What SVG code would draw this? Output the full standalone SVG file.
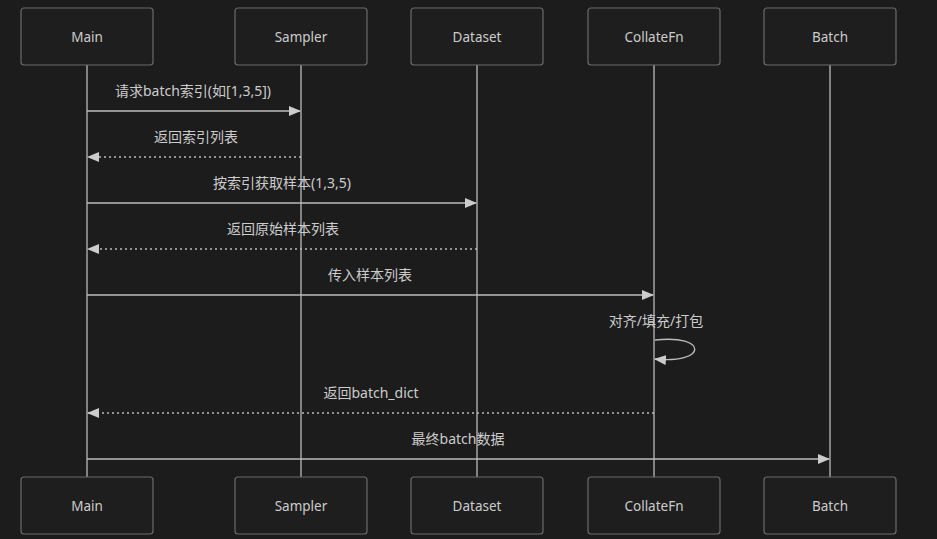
<svg xmlns="http://www.w3.org/2000/svg" width="937" height="539" viewBox="0 0 937 539">
<defs>
<marker id="ah" markerWidth="12" markerHeight="10" refX="11" refY="5" orient="auto" markerUnits="userSpaceOnUse">
<path d="M0,0 L12,5 L0,10 Z" fill="#cccccc"/>
</marker>
<style>
.box{fill:#1e1e1e;stroke:#6a6a6a;stroke-width:1.2}
.lbl{font-family:"Noto Sans","Noto Sans CJK SC",sans-serif;font-size:13.5px;fill:#cccccc;text-anchor:middle;dominant-baseline:central}
.life{stroke:#bbbbbb;stroke-width:1.3}
.msg{stroke:#bbbbbb;stroke-width:1.4;fill:none;marker-end:url(#ah)}
.dot{stroke-dasharray:2 3}
.mt{font-family:"Noto Sans","Noto Sans CJK SC",sans-serif;font-size:14px;fill:#cccccc;text-anchor:middle}
</style>
</defs>
<rect width="937" height="539" fill="#1c1c1c"/>
<g id="lifelines">
<line class="life" x1="87" y1="65" x2="87" y2="477"/>
<line class="life" x1="301" y1="65" x2="301" y2="477"/>
<line class="life" x1="477" y1="65" x2="477" y2="477"/>
<line class="life" x1="654" y1="65" x2="654" y2="477"/>
<line class="life" x1="830" y1="65" x2="830" y2="477"/>
</g>
<g id="main-top"><rect class="box" x="21" y="8" width="132" height="57" rx="3"/><text class="lbl" x="87" y="37">Main</text></g>
<g id="sampler-top"><rect class="box" x="235" y="8" width="132" height="57" rx="3"/><text class="lbl" x="301" y="37">Sampler</text></g>
<g id="dataset-top"><rect class="box" x="411" y="8" width="132" height="57" rx="3"/><text class="lbl" x="477" y="37">Dataset</text></g>
<g id="collate-top"><rect class="box" x="588" y="8" width="132" height="57" rx="3"/><text class="lbl" x="654" y="37">CollateFn</text></g>
<g id="batch-top"><rect class="box" x="764" y="8" width="132" height="57" rx="3"/><text class="lbl" x="830" y="37">Batch</text></g>
<g id="main-bottom"><rect class="box" x="21" y="477" width="132" height="57" rx="3"/><text class="lbl" x="87" y="506">Main</text></g>
<g id="sampler-bottom"><rect class="box" x="235" y="477" width="132" height="57" rx="3"/><text class="lbl" x="301" y="506">Sampler</text></g>
<g id="dataset-bottom"><rect class="box" x="411" y="477" width="132" height="57" rx="3"/><text class="lbl" x="477" y="506">Dataset</text></g>
<g id="collate-bottom"><rect class="box" x="588" y="477" width="132" height="57" rx="3"/><text class="lbl" x="654" y="506">CollateFn</text></g>
<g id="batch-bottom"><rect class="box" x="764" y="477" width="132" height="57" rx="3"/><text class="lbl" x="830" y="506">Batch</text></g>
<g id="connectors">
<line class="msg" x1="87" y1="111" x2="300" y2="111"/>
<text class="mt" x="193" y="96">请求batch索引(如[1,3,5])</text>
<line class="msg dot" x1="301" y1="157" x2="88" y2="157"/>
<text class="mt" x="196" y="142">返回索引列表</text>
<line class="msg" x1="87" y1="203" x2="476" y2="203"/>
<text class="mt" x="282" y="188">按索引获取样本(1,3,5)</text>
<line class="msg dot" x1="477" y1="249" x2="88" y2="249"/>
<text class="mt" x="283" y="234">返回原始样本列表</text>
<line class="msg" x1="87" y1="295" x2="653" y2="295"/>
<text class="mt" x="370" y="280">传入样本列表</text>
<path class="msg" d="M655,340 C708,334 708,364 655,359"/>
<text class="mt" x="656" y="326">对齐/填充/打包</text>
<line class="msg dot" x1="654" y1="413" x2="88" y2="413"/>
<text class="mt" x="371" y="398">返回batch_dict</text>
<line class="msg" x1="87" y1="459" x2="829" y2="459"/>
<text class="mt" x="458" y="444">最终batch数据</text>
</g>
</svg>
